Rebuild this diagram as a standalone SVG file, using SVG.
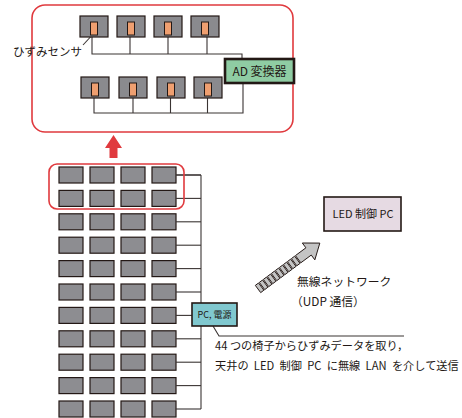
<svg xmlns="http://www.w3.org/2000/svg" xmlns:xlink="http://www.w3.org/1999/xlink" width="462" height="418" viewBox="0 0 462 418">
<style>
text{font-family:"Noto Sans CJK JP","Noto Sans",sans-serif;fill:#231815}
.seat{fill:#8d8d91;stroke:#231815;stroke-width:1.2}
.sb{fill:#8a8a8e;stroke:#231815;stroke-width:1.2}
.sn{fill:#ef9f70;stroke:#231815;stroke-width:1}
.ln{fill:none;stroke:#3a3433;stroke-width:1.1}
.red{fill:none;stroke:#e03a3e;stroke-width:1.6}
</style>
<defs>
<rect id="seat" class="seat" width="24" height="16"/>
<g id="sensor"><rect class="sb" width="28" height="21"/><rect class="sn" x="10.5" y="6" width="7" height="13"/></g>
<g id="seatrow">
<use href="#seat" x="59"/><use href="#seat" x="90"/><use href="#seat" x="121"/><use href="#seat" x="152"/>
<path class="ln" d="M176 8H201"/>
</g>
</defs>
<rect width="462" height="418" fill="#fff"/>

<g id="detail-panel">
<rect class="red" x="32" y="5" width="261" height="127" rx="13" fill="#fff"/>
</g>

<g id="connectors">
<path class="ln" d="M92 37V54H242V59M130 37V54M168 37V54M207 37V54"/>
<path class="ln" d="M94 98V113H243V83M133 98V113M170.5 98V113M207.5 98V113"/>
<path class="ln" d="M83 45L96 31"/>
<path class="ln" d="M201 175V409"/>
<path class="ln" d="M213 326L219 336H404" />
</g>

<g id="sensors-top">
<use href="#sensor" x="80" y="16"/><use href="#sensor" x="117" y="16"/><use href="#sensor" x="154" y="16"/><use href="#sensor" x="191" y="16"/>
</g>
<g id="sensors-bottom">
<use href="#sensor" x="81" y="77"/><use href="#sensor" x="119" y="77"/><use href="#sensor" x="157" y="77"/><use href="#sensor" x="194" y="77"/>
</g>
<g id="sensor-label"><text x="13" y="56" font-size="11.5">ひずみセンサ</text></g>
<g id="ad">
<rect x="225" y="59" width="69" height="24" fill="#8fcca3" stroke="#231815" stroke-width="2.6"/>
<text x="259.5" y="75.5" font-size="12" text-anchor="middle">AD 変換器</text>
</g>

<g id="zoom-arrow">
<polygon points="113.5,135 122,148 117.5,148 117.5,158 109.5,158 109.5,148 105,148" fill="#e03a3e"/>
</g>

<g id="seats">
<use href="#seatrow" y="167"/>
<use href="#seatrow" y="190.4"/>
<use href="#seatrow" y="213.8"/>
<use href="#seatrow" y="237.2"/>
<use href="#seatrow" y="260.6"/>
<use href="#seatrow" y="284"/>
<use href="#seatrow" y="307.4"/>
<use href="#seatrow" y="330.8"/>
<use href="#seatrow" y="354.2"/>
<use href="#seatrow" y="377.6"/>
<use href="#seatrow" y="401"/>
<path class="ln" d="M176 175H201"/>
</g>
<g id="selection">
<rect class="red" x="49" y="164" width="135" height="45" rx="8"/>
</g>

<g id="pc-power">
<rect x="192" y="303" width="45" height="23" fill="#80c8cf" stroke="#231815" stroke-width="1.6"/>
<text x="214.5" y="318" font-size="9" text-anchor="middle">PC, 電源</text>
</g>

<g id="led-pc">
<rect x="324" y="197" width="77" height="34" fill="#e6dae3" stroke="#231815" stroke-width="1.6"/>
<text x="363" y="218" font-size="11" text-anchor="middle">LED 制御 PC</text>
</g>

<g id="wireless" transform="translate(258 289) rotate(-36.6)">
<g fill="#c4c4c4" stroke="#231815" stroke-width="0.9">
<rect x="0" y="-4.5" width="4" height="9"/><rect x="5" y="-4.5" width="4" height="9"/><rect x="10" y="-4.5" width="4" height="9"/><rect x="15" y="-4.5" width="4" height="9"/><rect x="20" y="-4.5" width="4" height="9"/><rect x="25" y="-4.5" width="4" height="9"/><rect x="30" y="-4.5" width="4" height="9"/><rect x="35" y="-4.5" width="4" height="9"/><rect x="40" y="-4.5" width="4" height="9"/><rect x="45" y="-4.5" width="4" height="9"/>
<polygon points="50,-4.5 63,-4.5 63,-10.5 77,0 63,10.5 63,4.5 50,4.5"/>
</g>
</g>
<g id="wireless-label">
<text x="297" y="286" font-size="11.8" fill="#333">無線ネットワーク</text>
<text x="291" y="306" font-size="11.8" fill="#333">（UDP 通信）</text>
</g>

<g id="note">
<text x="215" y="350" font-size="11.2">44 つの椅子からひずみデータを取り，</text>
<text x="215" y="370" font-size="11.2" word-spacing="2.8">天井の LED 制御 PC に無線 LAN を介して送信</text>
</g>
</svg>
